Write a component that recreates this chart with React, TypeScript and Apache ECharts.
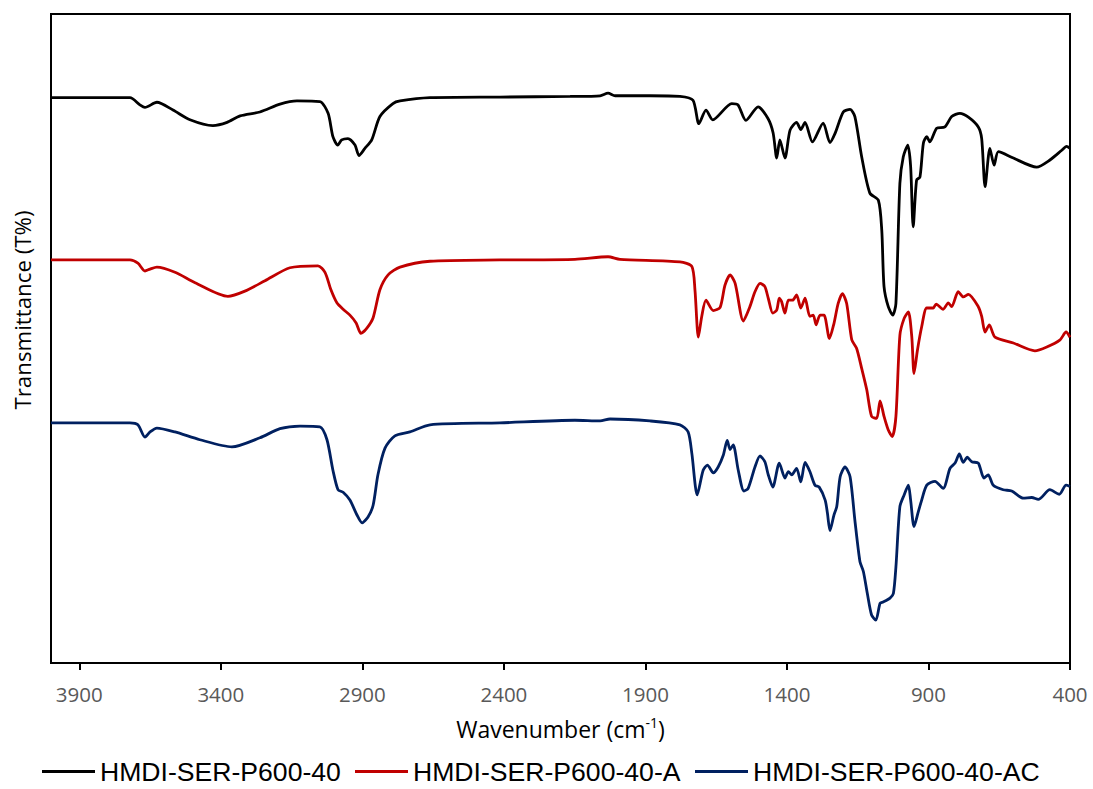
import React, { useEffect, useRef } from "react";
import * as echarts from "echarts";

const seriesNames = ["HMDI-SER-P600-40", "HMDI-SER-P600-40-A", "HMDI-SER-P600-40-AC"];
const seriesColors = ["#000000", "#C00000", "#002060"];
const tickValues = [400, 900, 1400, 1900, 2400, 2900, 3400, 3900];

const blackWn = [4000,3721,3686,3668,3626,3569,3509,3428,3378,3332,3262,3191,3131,3050,3021,3004,2987,2973,2951,2926,2912,2891,2867,2838,2792,2767,2661,2414,2166,2060,2032,2007,1884,1778,1732,1711,1686,1662,1595,1573,1545,1502,1467,1449,1436,1425,1407,1389,1366,1351,1336,1310,1272,1248,1230,1201,1177,1160,1136,1107,1077,1065,1057,1042,1026,1015,1001,989,973,963,954,942,930,918,906,895,871,842,818,789,759,724,712,700,683,668,653,600,518,471,429,412,400];
const blackT = [87.1,87.1,86.0,85.6,86.4,85.2,83.7,82.8,83.3,84.3,84.9,86.1,86.6,86.5,84.7,81.1,79.8,80.6,80.8,79.8,78.2,79.3,80.6,84.2,86.2,86.6,87.1,87.2,87.3,87.4,87.8,87.4,87.4,87.3,86.7,83.1,85.2,83.7,86.2,86.0,83.6,85.7,83.9,81.7,77.8,80.6,77.8,82.1,83.3,82.2,83.3,80.3,83.2,80.2,81.6,84.9,85.3,84.2,78.0,72.4,71.3,66.7,58.0,54.9,53.6,55.4,73.9,78.0,79.8,76.5,67.2,74.4,74.9,80.1,81.1,80.3,82.4,82.6,84.2,84.7,84.1,82.6,80.8,73.4,79.3,76.7,78.8,77.8,76.4,77.5,79.0,79.6,79.3];

const redWn = [4000,3721,3693,3668,3650,3626,3562,3491,3375,3315,3244,3156,3057,3032,3011,2990,2968,2944,2922,2905,2884,2862,2838,2809,2767,2661,2414,2149,2032,1990,1778,1736,1725,1713,1701,1686,1660,1636,1619,1601,1583,1554,1531,1513,1495,1478,1466,1450,1436,1427,1419,1407,1395,1380,1366,1351,1336,1319,1307,1297,1283,1269,1250,1234,1219,1204,1189,1171,1154,1136,1118,1101,1083,1071,1057,1042,1028,1015,1001,986,971,959,951,939,924,906,883,873,848,830,818,795,777,759,724,712,700,685,665,600,524,482,435,414,400];
const redT = [62.1,62.1,61.6,60.4,60.7,61.0,60.2,58.6,56.5,57.3,58.9,60.9,61.2,60.2,57.5,55.5,54.5,53.6,52.4,50.8,51.6,53.2,57.5,59.8,61.0,61.9,62.1,62.2,62.6,62.2,61.8,61.1,57.5,50.2,53.4,55.9,54.3,54.8,58.2,59.8,58.5,52.7,54.9,57.2,58.5,58.0,56.2,53.9,54.4,56.2,55.7,53.9,55.9,55.9,56.7,54.7,56.2,53.4,53.6,52.1,53.6,53.6,50.0,52.3,55.4,56.9,55.4,49.8,48.5,45.4,42.1,38.0,37.7,40.4,38.0,35.9,34.9,38.0,50.5,53.1,54.1,50.3,44.6,48.2,51.8,54.7,54.7,55.3,54.5,55.5,54.9,57.2,56.4,56.8,54.9,53.4,51.0,52.1,50.2,49.3,48.1,48.7,49.8,51.0,50.2];

const navyWn = [4000,3721,3693,3668,3650,3626,3562,3474,3361,3262,3191,3120,3050,3025,3004,2986,2968,2944,2919,2901,2880,2862,2845,2820,2785,2732,2661,2414,2149,2060,2025,1884,1778,1749,1736,1717,1696,1681,1660,1643,1625,1611,1601,1590,1572,1552,1537,1513,1495,1478,1466,1450,1427,1407,1395,1383,1366,1351,1336,1319,1301,1286,1265,1257,1248,1234,1224,1212,1195,1177,1160,1142,1130,1116,1101,1086,1071,1060,1036,1024,1015,1001,986,971,963,951,936,924,906,877,848,824,806,791,777,763,747,724,704,689,671,636,606,565,535,512,471,438,414,400];
const navyT = [37.0,37.0,36.7,34.8,35.6,36.2,35.6,34.4,33.3,34.7,36.1,36.5,36.4,34.4,29.7,26.7,26.3,25.1,22.8,21.6,22.5,24.3,29.0,33.1,35.0,35.6,36.7,37.0,37.4,37.3,37.6,37.3,36.7,35.6,32.3,25.9,29.7,30.5,29.3,30.2,32.0,34.3,32.9,33.6,29.7,26.5,26.9,30.2,31.9,31.0,29.0,27.1,30.8,28.5,29.5,29.0,30.0,27.9,30.9,29.5,27.4,27.1,25.1,23.1,20.4,22.8,24.1,28.7,30.2,28.7,22.0,15.6,14.1,10.7,7.4,6.6,9.2,9.4,10.0,10.7,14.8,24.1,25.9,27.4,25.1,21.0,23.3,25.1,27.4,28.0,26.9,30.0,30.8,32.2,30.9,31.7,31.0,30.8,28.5,29.0,27.4,26.7,26.5,25.4,25.5,25.2,26.7,26.0,27.4,27.2];

const legendLefts = [42, 355, 695];

const zip = (xs: number[], ys: number[]) => xs.map((x, i) => [x, ys[i]]);
const seriesData = [zip(blackWn, blackT), zip(redWn, redT), zip(navyWn, navyT)];

export default function App() {
  const ref = useRef<HTMLDivElement>(null);
  useEffect(() => {
    const chart = echarts.init(ref.current!, null, { renderer: "svg" });
    chart.setOption({
      animation: false,
      backgroundColor: "#ffffff",
      grid: { left: 51, right: 23, top: 14, bottom: 126, show: true, borderColor: "#000", borderWidth: 2, containLabel: false },
      xAxis: {
        type: "value",
        min: 400,
        max: 4000,
        inverse: true,
        axisLine: { show: true, lineStyle: { color: "#000", width: 2 } },
        axisTick: { show: true, customValues: tickValues, length: 7, inside: false, lineStyle: { color: "#000", width: 2 } },
        axisLabel: {
          customValues: tickValues,
          formatter: (v: number) => String(v),
          color: "#595959",
          fontSize: 20.5,
          fontFamily: "Open Sans",
          margin: 20,
        },
        splitLine: { show: false },
        name: "Wavenumber (cm{sup|-1})",
        nameLocation: "middle",
        nameGap: 52,
        nameTextStyle: {
          color: "#000",
          fontSize: 23,
          fontFamily: "Open Sans",
          lineHeight: 27,
          rich: { sup: { fontSize: 14, fontFamily: "Open Sans", color: "#000", verticalAlign: "top", lineHeight: 27 } },
        },
      },
      yAxis: {
        type: "value",
        min: 0,
        max: 100,
        axisLine: { show: true, lineStyle: { color: "#000", width: 2 } },
        axisTick: { show: false },
        axisLabel: { show: false },
        splitLine: { show: false },
      },
      legend: seriesNames.map((name, i) => ({
        left: legendLefts[i],
        top: 758,
        padding: 0,
        icon: "rect",
        itemWidth: 53,
        itemHeight: 3,
        itemGap: 15,
        textStyle: { fontFamily: "Liberation Sans, Arial", fontSize: 26.6, color: "#000" },
        data: [name],
      })),
      graphic: [
        {
          type: "text",
          x: 22,
          y: 310,
          rotation: Math.PI / 2,
          style: { text: "Transmittance (T%)", fontSize: 22.3, fontFamily: "Open Sans", fill: "#000", align: "center", verticalAlign: "middle" },
        },
      ],
      series: seriesNames.map((name, i) => ({
        name,
        type: "line",
        data: seriesData[i],
        showSymbol: false,
        symbol: "none",
        smooth: 0.25,
        color: seriesColors[i],
        lineStyle: { color: seriesColors[i], width: 2.8 },
      })),
    });
    return () => chart.dispose();
  }, []);
  return (
    <div
      ref={ref}
      style={{ position: "fixed", left: 0, top: 0, width: 1093, height: 789, background: "#fff" }}
    />
  );
}
